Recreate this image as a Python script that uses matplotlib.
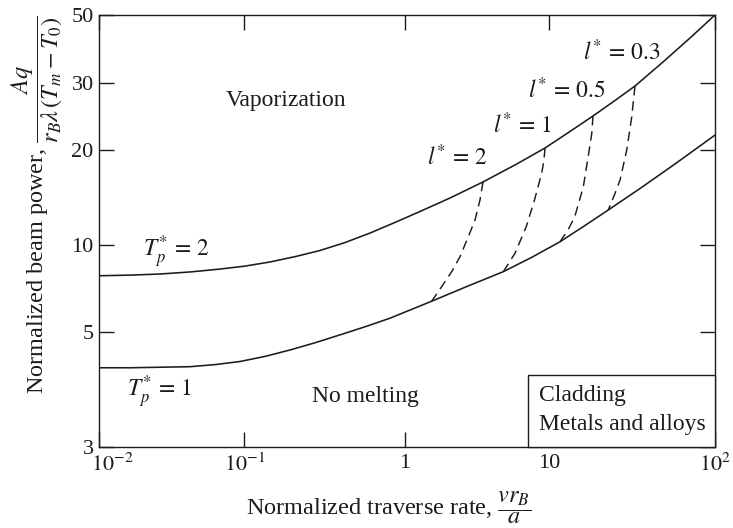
import numpy as np
import matplotlib
matplotlib.use("Agg")
import matplotlib.pyplot as plt
from matplotlib.ticker import FixedLocator, FixedFormatter, NullLocator
from matplotlib.patches import Rectangle
from matplotlib.transforms import ScaledTranslation

plt.rcParams['font.family'] = ['Liberation Serif', 'DejaVu Serif']
plt.rcParams['mathtext.fontset'] = 'stix'

# ---------------- data ----------------
x_ticks = [0.01, 0.1, 1, 10, 100]
x_ticklabels = [r'$10^{-2}$', r'$10^{-1}$', '1', '10', r'$10^{2}$']
y_ticks = [3, 5, 10, 20, 30, 50]
y_ticklabels = ['3', '5', '10', '20', '30', '50']

# T_p* = 2 (upper solid curve)
tp2_x = [0.01, 0.01628, 0.02622, 0.04221, 0.06797, 0.1, 0.1445, 0.2067, 0.2959,
         0.4232, 0.6057, 0.8665, 1.271, 2.054, 3.48, 5.805, 9.38, 13.38, 18.41,
         24.98, 32.97, 48.61, 70.7, 100]
tp2_y = [7.82, 7.86, 7.93, 8.06, 8.25, 8.44, 8.73, 9.11, 9.57,
         10.18, 10.91, 11.79, 12.77, 14.09, 15.84, 17.93, 20.24, 22.36, 24.55,
         26.95, 29.41, 35.07, 42.03, 50]

# T_p* = 1 (lower solid curve)
tp1_x = [0.01, 0.01628, 0.02622, 0.04221, 0.0628, 0.09339, 0.1345, 0.1925, 0.2754,
         0.3939, 0.5637, 0.8065, 1.532, 2.696, 4.816, 7.618, 11.65, 16.48, 22.76,
         35.33, 57.41, 100]
tp1_y = [4.26, 4.26, 4.27, 4.28, 4.32, 4.38, 4.48, 4.61, 4.76,
         4.93, 5.20, 5.57, 6.38, 7.18, 8.08, 9.07, 10.24, 11.53, 12.91,
         15.10, 18.06, 21.88]

# dashed l* curves (from the T_p*=2 curve down to the T_p*=1 curve)
l2_x = [3.48, 3.318, 3.063, 2.752, 2.41, 2.11, 1.798, 1.532]
l2_y = [15.84, 13.89, 12.0, 10.63, 9.11, 8.08, 7.17, 6.38]
l1_x = [9.38, 9.23, 8.9, 7.93, 6.95, 5.805, 4.816]
l1_y = [20.24, 18.59, 16.9, 13.89, 11.43, 9.36, 8.08]
l05_x = [18.41, 18.1, 17.2, 16.1, 14.3, 13.02, 11.65]
l05_y = [24.55, 22.1, 19.0, 15.3, 12.3, 11.16, 10.24]
l03_x = [32.97, 31.5, 29.4, 26.8, 24.64, 22.76]
l03_y = [29.41, 24.4, 20.0, 16.07, 14.3, 12.91]


# ------------- axis scales (log axes as drawn in the original) -------------
def piecewise_log_scale(vals, pos):
    lv = np.log10(np.asarray(vals, float))
    p = np.asarray(pos, float)
    s_lo = (p[1] - p[0]) / (lv[1] - lv[0])
    s_hi = (p[-1] - p[-2]) / (lv[-1] - lv[-2])

    def fwd(v):
        v = np.asarray(v, float)
        with np.errstate(divide='ignore', invalid='ignore'):
            l = np.log10(np.where(v > 0, v, np.nan))
        out = np.interp(l, lv, p)
        out = np.where(l < lv[0], p[0] + (l - lv[0]) * s_lo, out)
        out = np.where(l > lv[-1], p[-1] + (l - lv[-1]) * s_hi, out)
        return out

    def inv(q):
        q = np.asarray(q, float)
        l = np.interp(q, p, lv)
        l = np.where(q < p[0], lv[0] + (q - p[0]) / s_lo, l)
        l = np.where(q > p[-1], lv[-1] + (q - p[-1]) / s_hi, l)
        return 10 ** l

    return fwd, inv


x_fwd, x_inv = piecewise_log_scale(x_ticks, [0, 145, 305.7, 449.7, 615.7])
y_fwd, y_inv = piecewise_log_scale(y_ticks, [0, 115, 201.7, 296.7, 364, 431.7])

# ---------------- figure ----------------
W, H = 733, 528
fig = plt.figure(figsize=(W / 100, H / 100), dpi=100)
ax = fig.add_axes([99.3 / W, 1 - 446.7 / H, 615.7 / W, 431.7 / H])

ink = '#1c1c1c'
ax.set_xscale('function', functions=(x_fwd, x_inv))
ax.set_yscale('function', functions=(y_fwd, y_inv))
ax.set_xlim(0.01, 100)
ax.set_ylim(3, 50)

ax.plot(tp2_x, tp2_y, color=ink, lw=1.15, solid_joinstyle='round')
ax.plot(tp1_x, tp1_y, color=ink, lw=1.15, solid_joinstyle='round')
for xs, ys in [(l2_x, l2_y), (l1_x, l1_y), (l05_x, l05_y), (l03_x, l03_y)]:
    ax.plot(xs, ys, color=ink, lw=1.05, linestyle=(0, (6.5, 4.0)))

ax.xaxis.set_major_locator(FixedLocator(x_ticks))
ax.xaxis.set_major_formatter(FixedFormatter(x_ticklabels))
ax.yaxis.set_major_locator(FixedLocator(y_ticks))
ax.yaxis.set_major_formatter(FixedFormatter(y_ticklabels))
ax.xaxis.set_minor_locator(NullLocator())
ax.yaxis.set_minor_locator(NullLocator())

ax.tick_params(which='major', direction='in', length=11, width=1.0, color=ink,
               top=True, right=True, labelsize=16, labelcolor=ink)
ax.tick_params(axis='x', pad=5)
ax.tick_params(axis='y', pad=4)
for sp in ax.spines.values():
    sp.set_linewidth(1.0)
    sp.set_color(ink)
fig.canvas.draw()
first = ax.get_xticklabels()[0]
first.set_horizontalalignment('left')
first.set_transform(first.get_transform() + ScaledTranslation(-0.08, 0, fig.dpi_scale_trans))

fs = 17
ax.text(0.303, 0.803, 'Vaporization', transform=ax.transAxes, fontsize=fs,
        ha='center', va='center', color=ink)
ax.text(0.0712, 0.440, r'$T_p^{*}\, =\, 2$', transform=ax.transAxes, fontsize=fs,
        ha='left', va='baseline', color=ink)
ax.text(0.045, 0.1158, r'$T_p^{*}\, =\, 1$', transform=ax.transAxes, fontsize=fs,
        ha='left', va='baseline', color=ink)
ax.text(0.345, 0.104, 'No melting', transform=ax.transAxes, fontsize=fs,
        ha='left', va='baseline', color=ink)
for txt, fx, fy in [(r'$l^{*}\, =\, 0.3$', 0.786, 0.896),
                    (r'$l^{*}\, =\, 0.5$', 0.697, 0.807),
                    (r'$l^{*}\, =\, 1$', 0.640, 0.726),
                    (r'$l^{*}\, =\, 2$', 0.532, 0.6525)]:
    ax.text(fx, fy, txt, transform=ax.transAxes, fontsize=fs,
            ha='left', va='baseline', color=ink)

box_left = (528.3 - 99.3) / 615.7
box_top = (446.7 - 375) / 431.7
ax.add_patch(Rectangle((box_left, 0), 1 - box_left, box_top, transform=ax.transAxes,
                       facecolor='white', edgecolor=ink, lw=1.0, zorder=5,
                       clip_on=False))
ax.text(0.7145, 0.1066, 'Cladding', transform=ax.transAxes, fontsize=fs,
        ha='left', va='baseline', color=ink, zorder=6)
ax.text(0.7145, 0.0387, 'Metals and alloys', transform=ax.transAxes, fontsize=fs,
        ha='left', va='baseline', color=ink, zorder=6)

lfs = 17.5
ax.set_xlabel(r'Normalized traverse rate, $\dfrac{v r_B}{a}$', fontsize=lfs, color=ink)
ax.xaxis.set_label_coords((388.5 - 99.3) / 615.7, (446.7 - 489) / 431.7)
ax.set_ylabel(r'Normalized beam power, $\dfrac{Aq}{r_B\lambda\,(T_m - T_0)}$',
              fontsize=lfs, color=ink)
ax.yaxis.set_label_coords((65 - 99.3) / 615.7, (446.7 - 205) / 431.7)

fig.savefig('out.png', dpi=100, facecolor='white')
